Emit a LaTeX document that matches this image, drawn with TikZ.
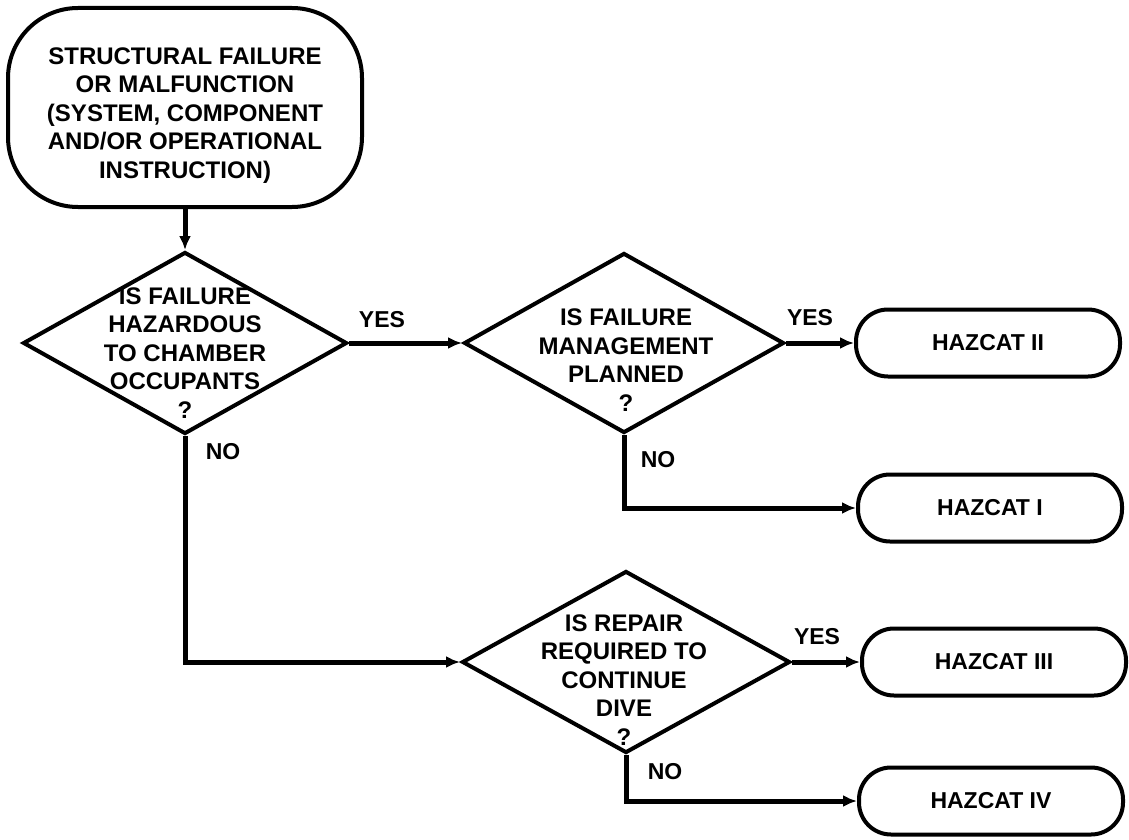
\documentclass[tikz,border=0pt]{standalone}
\usepackage{fontspec}
\setmainfont{Liberation Sans}
\usetikzlibrary{shapes.geometric,arrows.meta}
\begin{document}
\begin{tikzpicture}[x=1pt,y=-1pt,
  outline/.style={draw=black,line width=4pt},
  startbox/.style={outline,rectangle,rounded corners=70pt,minimum width=354pt,minimum height=199pt,inner sep=0pt},
  decision/.style={outline,diamond,inner sep=0pt},
  endbox/.style={outline,rectangle,rounded corners=32pt,minimum width=264pt,minimum height=67pt,inner sep=0pt,font=\fontsize{23}{27}\selectfont\bfseries},
  qtext/.style={align=center,font=\fontsize{24}{28.5}\selectfont\bfseries,inner sep=0pt},
  lbl/.style={font=\fontsize{23}{27}\selectfont\bfseries,inner sep=0pt},
  conn/.style={line width=5pt,-{Latex[length=14pt,width=12pt]}}
]
\useasboundingbox (0,0) rectangle (1129,840);

% start
\node[startbox] (start) at (185,107.5) {};
\node[qtext] (starttext) at (185,115.5) {STRUCTURAL FAILURE\\OR MALFUNCTION\\(SYSTEM, COMPONENT\\AND/OR OPERATIONAL\\INSTRUCTION)};

% decisions
\node[decision,minimum width=324pt,minimum height=182pt] (d1) at (185,343) {};
\node[qtext] (d1text) at (185,353) {IS FAILURE\\HAZARDOUS\\TO CHAMBER\\OCCUPANTS\\?};

\node[decision,minimum width=320pt,minimum height=180pt] (d2) at (624,343) {};
\node[qtext] (d2text) at (626,360) {IS FAILURE\\MANAGEMENT\\PLANNED\\?};

\node[decision,minimum width=328pt,minimum height=182pt] (d3) at (626,662) {};
\node[qtext] (d3text) at (624,680) {IS REPAIR\\REQUIRED TO\\CONTINUE\\DIVE\\?};

% end boxes
\node[endbox] (h2) at (988,343) {HAZCAT II};
\node[endbox] (h1) at (990,508) {HAZCAT I};
\node[endbox] (h3) at (994,662) {HAZCAT III};
\node[endbox] (h4) at (991,801) {HAZCAT IV};

% labels
\node[lbl] (yes1) at (382,320) {YES};
\node[lbl] (yes2) at (810,318) {YES};
\node[lbl] (yes3) at (817,637) {YES};
\node[lbl] (no1) at (223,452) {NO};
\node[lbl] (no2) at (658,460) {NO};
\node[lbl] (no3) at (665,772) {NO};

% connectors
\draw[conn] (start.south) -- (d1.north);
\draw[conn] (d1.east) -- (d2.west);
\draw[conn] (d2.east) -- (h2.west);
\draw[conn] (d2.south) |- (h1.west);
\draw[conn] (d1.south) |- (d3.west);
\draw[conn] (d3.east) -- (h3.west);
\draw[conn] (d3.south) |- (h4.west);
\end{tikzpicture}
\end{document}
